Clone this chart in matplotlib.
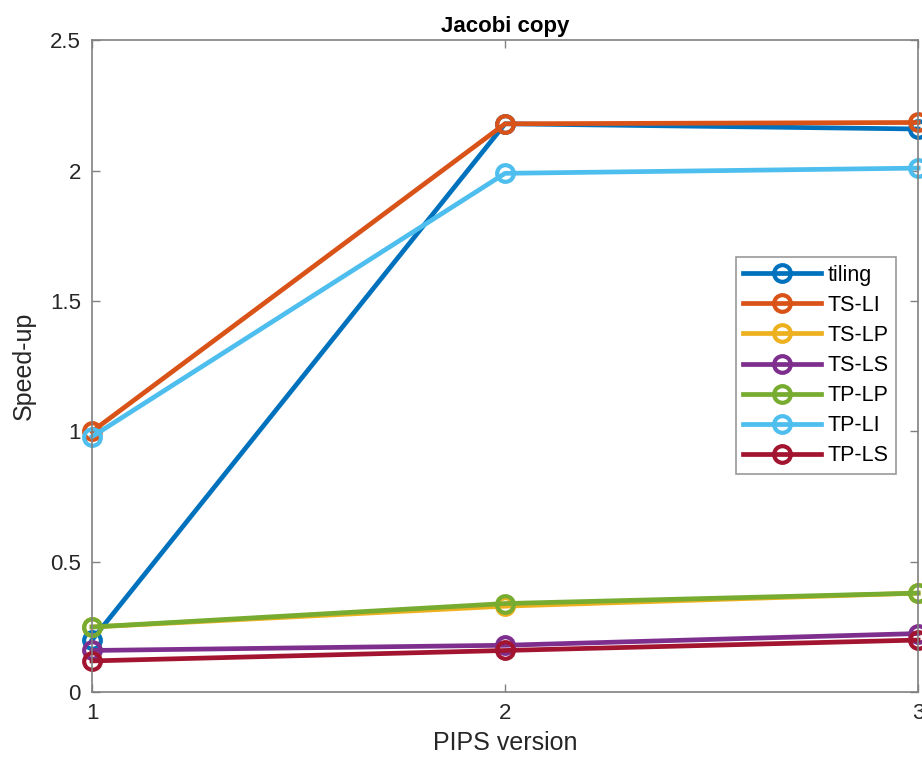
import matplotlib.pyplot as plt

# data
versions = [1, 2, 3]
tiling = [0.20, 2.18, 2.16]
ts_li = [1.00, 2.18, 2.185]
ts_lp = [0.25, 0.33, 0.38]
ts_ls = [0.16, 0.18, 0.225]
tp_lp = [0.25, 0.34, 0.38]
tp_li = [0.98, 1.99, 2.01]
tp_ls = [0.12, 0.16, 0.20]

labels = ['tiling', 'TS-LI', 'TS-LP', 'TS-LS', 'TP-LP', 'TP-LI', 'TP-LS']
series = [tiling, ts_li, ts_lp, ts_ls, tp_lp, tp_li, tp_ls]
colors = ['#0072BD', '#D95319', '#EDB120', '#7E2F8E', '#77AC30', '#4DBEEE', '#A2142F']

plt.rcParams['font.family'] = ['Liberation Sans', 'DejaVu Sans']

fig = plt.figure(figsize=(9.22, 7.76), dpi=100)
ax = fig.add_axes([0.0998, 0.108, 0.896, 0.840])

for ys, lab, c in zip(series, labels, colors):
    ax.plot(versions, ys, color=c, linewidth=3.4, marker='o', markersize=12,
            markerfacecolor='none', markeredgewidth=3, label=lab, clip_on=False)

ax.set_xlim(1, 3)
ax.set_ylim(0, 2.5)
ax.set_xticks([1, 2, 3])
ax.set_yticks([0, 0.5, 1, 1.5, 2, 2.5])
ax.set_yticklabels(['0', '0.5', '1', '1.5', '2', '2.5'])

axcol = '#808080'
for s in ax.spines.values():
    s.set_color(axcol)
    s.set_linewidth(1.2)
ax.tick_params(direction='in', length=6, width=1, colors=axcol, labelcolor='#262626',
               labelsize=16, top=True, right=True, pad=8)

ax.set_xlabel('PIPS version', fontsize=18, color='#262626', labelpad=5)
ax.set_ylabel('Speed-up', fontsize=18, color='#262626', labelpad=10)
ax.set_title('Jacobi copy', fontsize=16, fontweight='bold', pad=6)

leg = ax.legend(loc='upper right', bbox_to_anchor=(0.973, 0.667), fontsize=15.5,
                handlelength=3.6, handletextpad=0.3, labelspacing=0.42,
                fancybox=False, borderpad=0.35, borderaxespad=0)
leg.get_frame().set_edgecolor(axcol)
leg.get_frame().set_linewidth(1.2)

plt.savefig('out.png', dpi=100)
